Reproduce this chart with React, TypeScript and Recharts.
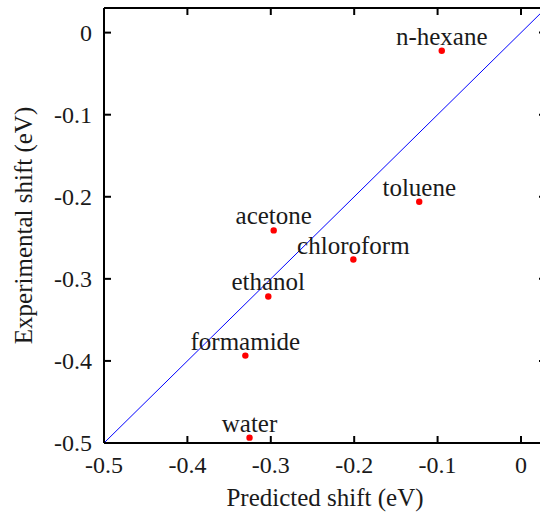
import React from "react";
import {
  ScatterChart,
  Scatter,
  XAxis,
  YAxis,
  ReferenceLine,
} from "recharts";

const solvents = ["n-hexane", "toluene", "acetone", "chloroform", "ethanol", "formamide", "water"];
const predicted = [-0.095, -0.122, -0.2965, -0.201, -0.303, -0.3305, -0.3255];
const experimental = [-0.022, -0.206, -0.241, -0.2765, -0.3215, -0.3935, -0.4935];
const xTicks = [-0.5, -0.4, -0.3, -0.2, -0.1, 0];
const yTicks = [-0.5, -0.4, -0.3, -0.2, -0.1, 0];
const axisDomain: [number, number] = [-0.5, 0.03];
const diagonal = [
  { x: -0.5, y: -0.5 },
  { x: 0.03, y: 0.03 },
];

const points = solvents.map((name, i) => ({ name, x: predicted[i], y: experimental[i] }));

const FONT = "Liberation Serif, Times New Roman, Times, serif";
const TEXT = "#1a1a1a";
const wordStyle: React.CSSProperties = { fontFamily: FONT, fontSize: 25 };
const tickStyle: React.CSSProperties = { fontFamily: FONT, fontSize: 24 };

const BottomTick = (props: any) => {
  const { x, y, payload } = props;
  return (
    <g>
      <line x1={x} y1={y} x2={x} y2={y - 7} stroke="#000" strokeWidth={2} />
      <text x={x} y={y + 30} textAnchor="middle" style={tickStyle} fill={TEXT}>
        {String(payload.value)}
      </text>
    </g>
  );
};

const LeftTick = (props: any) => {
  const { x, y, payload } = props;
  return (
    <g>
      <line x1={x} y1={y} x2={x + 7} y2={y} stroke="#000" strokeWidth={2} />
      <text x={x - 12} y={y + 8} textAnchor="end" style={tickStyle} fill={TEXT}>
        {String(payload.value)}
      </text>
    </g>
  );
};

const TopTick = (props: any) => {
  const { x, y } = props;
  return <line x1={x} y1={y} x2={x} y2={y + 7} stroke="#000" strokeWidth={2} />;
};

const RightTick = (props: any) => {
  const { x, y } = props;
  return <line x1={x} y1={y} x2={x - 7} y2={y} stroke="#000" strokeWidth={2} />;
};

const PointShape = (props: any) => {
  const { cx, cy, payload } = props;
  return (
    <g>
      <circle cx={cx} cy={cy} r={3.2} fill="#ff0000" />
      <text x={cx} y={cy - 6} textAnchor="middle" style={wordStyle} fill={TEXT}>
        {payload.name}
      </text>
    </g>
  );
};

const XTitle = (props: any) => {
  const vb = props.viewBox;
  return (
    <text x={vb.x + vb.width / 2} y={vb.y + 63} textAnchor="middle" style={wordStyle} fill={TEXT}>
      Predicted shift (eV)
    </text>
  );
};

const YTitle = (props: any) => {
  const vb = props.viewBox;
  const cx = 32;
  const cy = vb.y + vb.height / 2;
  return (
    <text
      x={cx}
      y={cy}
      textAnchor="middle"
      transform={`rotate(-90, ${cx}, ${cy})`}
      style={wordStyle}
      fill={TEXT}
    >
      Experimental shift (eV)
    </text>
  );
};

export default function App() {
  return (
    <div style={{ position: "absolute", left: 0, top: 0, width: 540, height: 512, overflow: "hidden", background: "#fff" }}>
      <ScatterChart width={550} height={512} margin={{ top: 0, right: 0, bottom: 0, left: 0 }}>
        <XAxis
          xAxisId="b"
          type="number"
          dataKey="x"
          domain={axisDomain}
          ticks={xTicks}
          orientation="bottom"
          height={69}
          tickSize={0}
          tickMargin={0}
          tickLine={false}
          axisLine={{ stroke: "#000", strokeWidth: 2 }}
          tick={<BottomTick />}
          allowDataOverflow
          label={<XTitle />}
        />
        <XAxis
          xAxisId="t"
          type="number"
          dataKey="x"
          domain={axisDomain}
          ticks={xTicks}
          orientation="top"
          height={8}
          tickSize={0}
          tickMargin={0}
          tickLine={false}
          axisLine={{ stroke: "#000", strokeWidth: 2 }}
          tick={<TopTick />}
          allowDataOverflow
        />
        <YAxis
          yAxisId="l"
          type="number"
          dataKey="y"
          domain={axisDomain}
          ticks={yTicks}
          orientation="left"
          width={104}
          tickSize={0}
          tickMargin={0}
          tickLine={false}
          axisLine={{ stroke: "#000", strokeWidth: 2 }}
          tick={<LeftTick />}
          allowDataOverflow
          label={<YTitle />}
        />
        <YAxis
          yAxisId="r"
          type="number"
          dataKey="y"
          domain={axisDomain}
          ticks={yTicks}
          orientation="right"
          width={4}
          tickSize={0}
          tickMargin={0}
          tickLine={false}
          axisLine={{ stroke: "#000", strokeWidth: 2 }}
          tick={<RightTick />}
          allowDataOverflow
        />
        <ReferenceLine
          xAxisId="b"
          yAxisId="l"
          segment={diagonal}
          stroke="#0000ff"
          strokeWidth={1}
        />
        <Scatter
          xAxisId="b"
          yAxisId="l"
          data={points}
          shape={<PointShape />}
          isAnimationActive={false}
        />
      </ScatterChart>
    </div>
  );
}
